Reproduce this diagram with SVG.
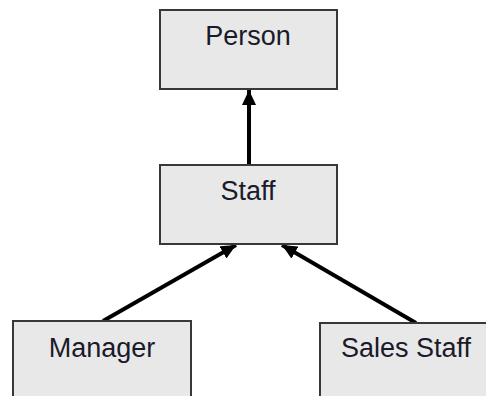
<svg xmlns="http://www.w3.org/2000/svg" width="486" height="396" viewBox="0 0 486 396">
<style>
.box{fill:#e8e8e8;stroke:#383838;stroke-width:2}
.lbl{font-family:"Liberation Sans",Arial,sans-serif;font-size:27px;fill:#1a1a2a;text-anchor:middle}
.conn{stroke:#000;stroke-width:4;fill:none;marker-end:url(#arr)}
</style>
<defs>
<marker id="arr" markerUnits="userSpaceOnUse" markerWidth="16" markerHeight="14" refX="15" refY="7" orient="auto">
<path d="M0,0 L15,7 L0,14 Z" fill="#000"/>
</marker>
</defs>
<rect width="486" height="396" fill="#fff"/>
<g id="connectors">
<line class="conn" x1="249" y1="165" x2="249" y2="90"/>
<line class="conn" x1="103" y1="321" x2="236" y2="245"/>
<line class="conn" x1="416" y1="323" x2="282" y2="245"/>
</g>
<g id="person">
<rect class="box" x="160" y="10" width="177" height="79"/>
<text class="lbl" x="248" y="45">Person</text>
</g>
<g id="staff">
<rect class="box" x="160" y="165" width="177" height="79"/>
<text class="lbl" x="248" y="200">Staff</text>
</g>
<g id="manager">
<rect class="box" x="13" y="321" width="178" height="90"/>
<text class="lbl" x="102" y="357">Manager</text>
</g>
<g id="sales-staff">
<rect class="box" x="320" y="323" width="180" height="90"/>
<text class="lbl" x="406" y="357">Sales Staff</text>
</g>
</svg>
